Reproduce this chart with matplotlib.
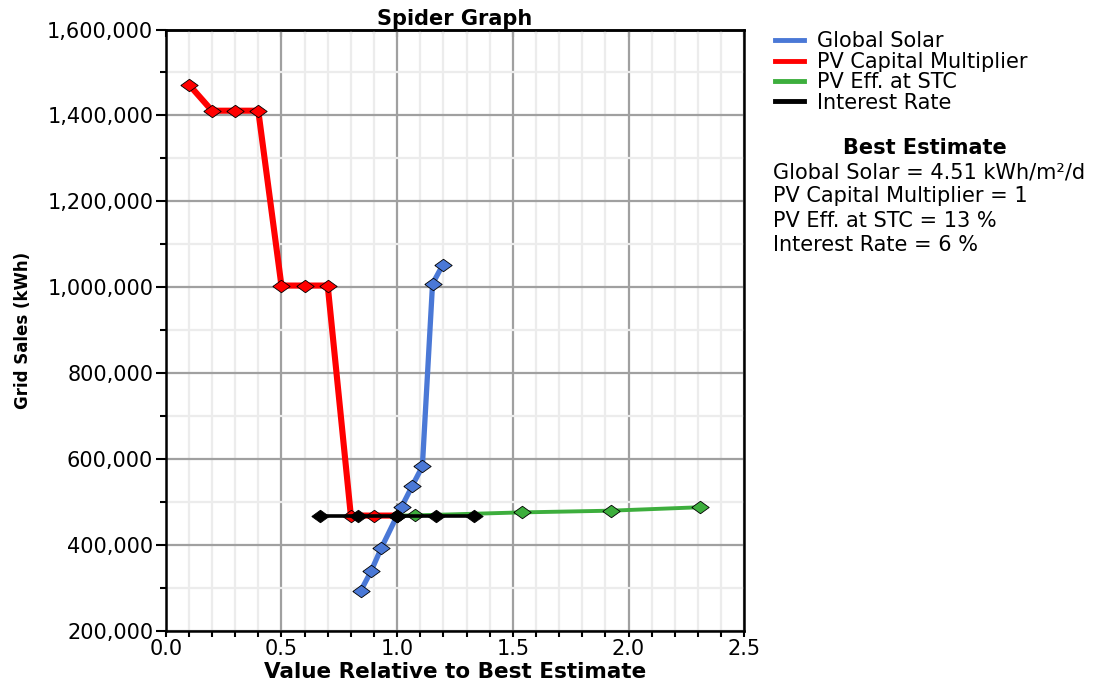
import matplotlib.pyplot as plt
from matplotlib.ticker import MultipleLocator, FuncFormatter
from matplotlib.lines import Line2D

# Datos (valor relativo vs ventas a red en kWh)
solar_x = [0.843, 0.887, 0.931, 1.0, 1.020, 1.064, 1.109, 1.153, 1.197]
solar_y = [293600, 338600, 392300, 468600, 489600, 536300, 583000, 1008000, 1052000]

capital_x = [0.1, 0.2, 0.3, 0.4, 0.5, 0.6, 0.7, 0.8, 0.9, 1.0]
capital_y = [1472000, 1411000, 1411000, 1411000, 1004000, 1004000, 1004000,
             468600, 468600, 468600]

eff_x = [1.0, 1.077, 1.538, 1.923, 2.308]
eff_y = [468600, 469000, 476000, 480000, 488000]

interest_x = [0.667, 0.833, 1.0, 1.167, 1.333]
interest_y = [468600, 468600, 468600, 468600, 468600]

series_names = ['Global Solar', 'PV Capital Multiplier', 'PV Eff. at STC', 'Interest Rate']
best_lines = ['Global Solar = 4.51 kWh/m²/d', 'PV Capital Multiplier = 1',
              'PV Eff. at STC = 13 %', 'Interest Rate = 6 %']

plt.rcParams['font.family'] = ['DejaVu Sans']

fig = plt.figure(figsize=(11.01, 6.8), dpi=100)
ax = fig.add_axes([0.1505, 0.0721, 0.5255, 0.8845])

diamond = [(-1, 0), (0, 0.72), (1, 0), (0, -0.72), (-1, 0)]
colors = ['#4a78d6', '#ff0000', '#3dae3d', '#000000']
widths = [3.8, 4.4, 2.8, 2.6]
datos = [(solar_x, solar_y), (capital_x, capital_y), (eff_x, eff_y), (interest_x, interest_y)]

for (xs, ys), c, lw in zip(datos, colors, widths):
    ax.plot(xs, ys, color=c, lw=lw, marker=diamond, markersize=12.5,
            markerfacecolor=c, markeredgecolor='black', markeredgewidth=0.6, zorder=3)

ax.set_xlim(0, 2.5)
ax.set_ylim(200000, 1600000)
ax.xaxis.set_major_locator(MultipleLocator(0.5))
ax.xaxis.set_minor_locator(MultipleLocator(0.1))
ax.yaxis.set_major_locator(MultipleLocator(200000))
ax.yaxis.set_minor_locator(MultipleLocator(100000))
ax.xaxis.set_major_formatter(FuncFormatter(lambda v, p: f'{v:.1f}'))
ax.yaxis.set_major_formatter(FuncFormatter(lambda v, p: f'{v:,.0f}'))

ax.grid(which='minor', color='#ececec', lw=1.6, zorder=0)
ax.grid(which='major', color='#a0a0a0', lw=1.6, zorder=1)
ax.set_axisbelow(True)

for s in ax.spines.values():
    s.set_linewidth(1.8)
ax.tick_params(which='both', direction='out', width=1.5, labelsize=15)
ax.tick_params(axis='y', which='major', length=7, pad=2)
ax.tick_params(axis='y', which='minor', length=4)
ax.tick_params(axis='x', which='both', length=4, pad=2)

# ticks de arriba hacia dentro, sin etiquetas
top = ax.secondary_xaxis('top')
top.xaxis.set_major_locator(MultipleLocator(0.5))
top.xaxis.set_minor_locator(MultipleLocator(0.1))
top.tick_params(which='both', direction='in', width=1.5, labeltop=False)
top.tick_params(which='major', length=5)
top.tick_params(which='minor', length=3)
top.spines['top'].set_linewidth(1.8)

ax.set_title('Spider Graph', fontsize=15, fontweight='bold', pad=3)
ax.set_xlabel('Value Relative to Best Estimate', fontsize=15.5, fontweight='bold', labelpad=2)
ax.set_ylabel('Grid Sales (kWh)', fontsize=12, fontweight='bold', labelpad=11)

handles = [Line2D([], [], color=c, lw=3.5) for c in colors]
fig.legend(handles, series_names, loc='upper left', bbox_to_anchor=(0.6965, 0.966),
           frameon=False, fontsize=15, handlelength=1.4, handletextpad=0.6,
           labelspacing=0.02, borderaxespad=0)

fig.text(0.840, 0.782, 'Best Estimate', fontsize=15, fontweight='bold', ha='center', va='center')
for i, t in enumerate(best_lines):
    fig.text(0.702, 0.747 - i * 0.0357, t, fontsize=15, ha='left', va='center')

fig.savefig('out.png', dpi=100)
